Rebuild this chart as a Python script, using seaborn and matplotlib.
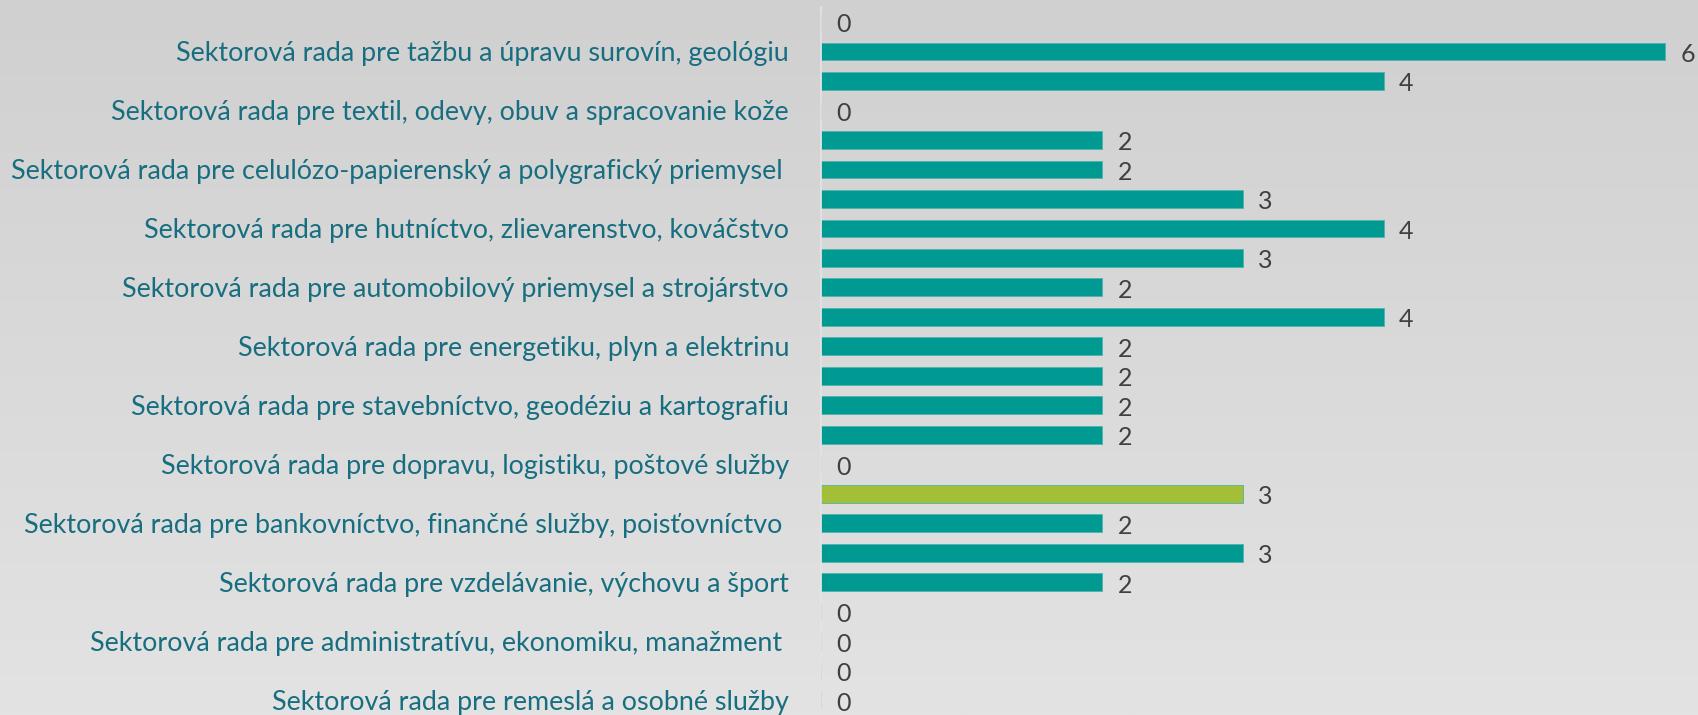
import numpy as np
import pandas as pd
import matplotlib
matplotlib.use("Agg")
import matplotlib.pyplot as plt
import seaborn as sns

# hodnoty pre 24 riadkov (zhora nadol)
hodnoty = [0, 6, 4, 0, 2, 2, 3, 4, 3, 2, 4, 2, 2, 2, 2, 0, 3, 2, 3, 2, 0, 0, 0, 0]
# zvýraznený riadok
zvyrazneny = 16

# viditeľné popisky (každý druhý riadok)
popisky = [
    "Sektorová rada pre tažbu a úpravu surovín, geológiu",
    "Sektorová rada pre textil, odevy, obuv a spracovanie kože",
    "Sektorová rada pre celulózo-papierenský a polygrafický priemysel ",
    "Sektorová rada pre hutníctvo, zlievarenstvo, kováčstvo",
    "Sektorová rada pre automobilový priemysel a strojárstvo",
    "Sektorová rada pre energetiku, plyn a elektrinu",
    "Sektorová rada pre stavebníctvo, geodéziu a kartografiu",
    "Sektorová rada pre dopravu, logistiku, poštové služby",
    "Sektorová rada pre bankovníctvo, finančné služby, poisťovníctvo ",
    "Sektorová rada pre vzdelávanie, výchovu a šport",
    "Sektorová rada pre administratívu, ekonomiku, manažment ",
    "Sektorová rada pre remeslá a osobné služby",
]

TEAL = "#009a93"
GREEN = "#a2bf37"
LABEL_C = "#176e80"
VALUE_C = "#404040"

df = pd.DataFrame({"riadok": list(range(len(hodnoty))), "pocet": hodnoty})
farby = {i: (GREEN if i == zvyrazneny else TEAL) for i in df["riadok"]}

sns.set_style("white")
plt.rcParams["font.family"] = ["Lato", "DejaVu Sans"]

fig = plt.figure(figsize=(16.99, 7.15), dpi=100)

# pozadie s jemným prechodom
bg = fig.add_axes([0, 0, 1, 1], zorder=0)
grad = np.linspace(0, 1, 256).reshape(-1, 1)
bg.imshow(grad, aspect="auto", cmap=matplotlib.colors.LinearSegmentedColormap.from_list(
    "bg", ["#d0d0d0", "#e3e3e3"]), extent=[0, 1, 0, 1], origin="upper")
bg.axis("off")

ax = fig.add_axes([0.4832, 0.0, 0.5168, 0.99], zorder=1)
ax.patch.set_alpha(0)

sns.barplot(data=df, x="pocet", y="riadok", hue="riadok", palette=farby,
            orient="h", legend=False, width=0.6, saturation=1, ax=ax,
            edgecolor="#4fb3ad", linewidth=0.6)

ax.set_xlim(0, 6.24)
ax.set_ylim(len(hodnoty) - 0.5, -0.5)
ax.set_xticks([])
ax.set_yticks(range(1, len(hodnoty), 2))
ax.set_yticklabels(popisky, color=LABEL_C, fontsize=19.4)
ax.tick_params(axis="y", length=0, pad=23)
ax.set_xlabel("")
ax.set_ylabel("")

for s in ["top", "right", "bottom"]:
    ax.spines[s].set_visible(False)
ax.spines["left"].set_color("#e4e4e4")
ax.spines["left"].set_linewidth(1.2)

for i, v in enumerate(hodnoty):
    ax.annotate(str(v), (v, i), xytext=(11, -2), textcoords="offset points",
                ha="left", va="center", fontsize=18, color=VALUE_C)

fig.savefig("out.png", dpi=100)
